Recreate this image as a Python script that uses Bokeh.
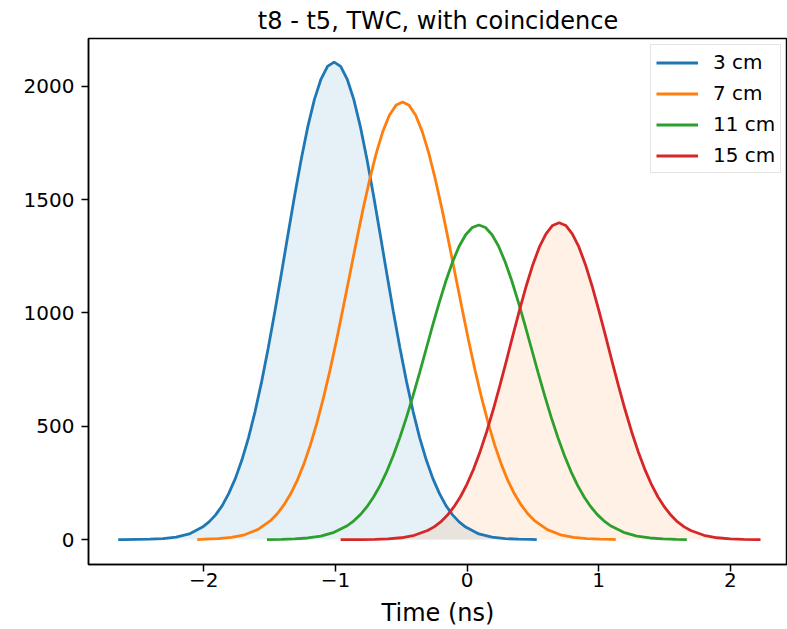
from bokeh.plotting import figure
from bokeh.models import Range1d, FixedTicker, Legend, LegendItem
from bokeh.embed import file_html
from bokeh.resources import INLINE

title_text = "t8 - t5, TWC, with coincidence"
x_label = "Time (ns)"
series_labels = ["3 cm", "7 cm", "11 cm", "15 cm"]
colors = ["#1f77b4", "#ff7f0e", "#2ca02c", "#d62728"]

time_3cm = [-2.65, -2.61, -2.51, -2.41, -2.31, -2.21, -2.11, -2.01, -1.96, -1.91, -1.86, -1.81, -1.76, -1.71,
            -1.66, -1.61, -1.56, -1.51, -1.46, -1.41, -1.36, -1.31, -1.26, -1.21, -1.16, -1.11, -1.06, -1.01,
            -0.96, -0.91, -0.86, -0.81, -0.76, -0.71, -0.66, -0.61, -0.56, -0.51, -0.46, -0.41, -0.36, -0.31,
            -0.26, -0.21, -0.16, -0.11, -0.06, -0.01, 0.09, 0.19, 0.29, 0.39, 0.49, 0.53]
counts_3cm = [0, 0, 1, 2, 4, 11, 25, 55, 78, 109, 150, 204, 270, 352, 450, 566, 698, 846, 1006, 1175, 1347,
              1517, 1677, 1821, 1941, 2031, 2088, 2107, 2088, 2031, 1941, 1821, 1677, 1517, 1347, 1175, 1006,
              846, 698, 566, 450, 352, 270, 204, 150, 109, 78, 55, 25, 11, 4, 2, 1, 0]

time_7cm = [-2.05, -1.99, -1.89, -1.79, -1.69, -1.59, -1.49, -1.44, -1.39, -1.34, -1.29, -1.24, -1.19, -1.14,
            -1.09, -1.04, -0.99, -0.94, -0.89, -0.84, -0.79, -0.74, -0.69, -0.64, -0.59, -0.54, -0.49, -0.44,
            -0.39, -0.34, -0.29, -0.24, -0.19, -0.14, -0.09, -0.04, 0.01, 0.06, 0.11, 0.16, 0.21, 0.26, 0.31,
            0.36, 0.41, 0.46, 0.51, 0.61, 0.71, 0.81, 0.91, 1.01, 1.11, 1.13]
counts_7cm = [0, 2, 4, 10, 21, 44, 85, 115, 154, 202, 261, 333, 418, 516, 627, 750, 884, 1026, 1171, 1317,
              1458, 1588, 1704, 1800, 1872, 1916, 1931, 1916, 1872, 1800, 1704, 1588, 1458, 1317, 1171, 1026,
              884, 750, 627, 516, 418, 333, 261, 202, 154, 115, 85, 44, 21, 10, 4, 2, 1, 0]

time_11cm = [-1.52, -1.41, -1.31, -1.21, -1.11, -1.01, -0.91, -0.86, -0.81, -0.76, -0.71, -0.66, -0.61, -0.56,
             -0.51, -0.46, -0.41, -0.36, -0.31, -0.26, -0.21, -0.16, -0.11, -0.06, -0.01, 0.04, 0.09, 0.14,
             0.19, 0.24, 0.29, 0.34, 0.39, 0.44, 0.49, 0.54, 0.59, 0.64, 0.69, 0.74, 0.79, 0.84, 0.89, 0.94,
             0.99, 1.04, 1.09, 1.19, 1.29, 1.39, 1.49, 1.59, 1.67]
counts_11cm = [0, 1, 3, 7, 15, 32, 61, 83, 110, 145, 188, 239, 300, 371, 451, 539, 635, 737, 842, 947, 1048,
               1142, 1225, 1294, 1345, 1377, 1388, 1377, 1345, 1294, 1225, 1142, 1048, 947, 842, 737, 635,
               539, 451, 371, 300, 239, 188, 145, 110, 83, 61, 32, 15, 7, 3, 1, 0]

time_15cm = [-0.96, -0.90, -0.80, -0.70, -0.60, -0.50, -0.40, -0.30, -0.25, -0.20, -0.15, -0.10, -0.05, 0.00,
             0.05, 0.10, 0.15, 0.20, 0.25, 0.30, 0.35, 0.40, 0.45, 0.50, 0.55, 0.60, 0.65, 0.70, 0.75, 0.80,
             0.85, 0.90, 0.95, 1.00, 1.05, 1.10, 1.15, 1.20, 1.25, 1.30, 1.35, 1.40, 1.45, 1.50, 1.55, 1.60,
             1.65, 1.70, 1.80, 1.90, 2.00, 2.10, 2.20, 2.23]
counts_15cm = [0, 0, 0, 1, 3, 8, 19, 40, 56, 78, 107, 144, 189, 245, 311, 389, 477, 575, 680, 791, 904,
               1015, 1119, 1213, 1291, 1349, 1386, 1398, 1386, 1349, 1291, 1213, 1119, 1015, 904, 791, 680,
               575, 477, 389, 311, 245, 189, 144, 107, 78, 56, 40, 19, 8, 3, 1, 0, 0]

x_ticks = [-2, -1, 0, 1, 2]
x_tick_labels = ["\u22122", "\u22121", "0", "1", "2"]
y_ticks = [0, 500, 1000, 1500, 2000]

FONT = "DejaVu Sans"

p = figure(width=787, height=629, output_backend="svg", toolbar_location=None,
           x_range=Range1d(-2.876, 2.435), y_range=Range1d(-110, 2211),
           min_border_left=88, min_border_right=0, min_border_top=38, min_border_bottom=64)

p.title.text = title_text
p.title.text_font = FONT
p.title.text_font_size = "24px"
p.title.text_font_style = "normal"
p.title.text_color = "black"
p.title.align = "center"
p.title.standoff = 7

p.grid.visible = False
p.outline_line_color = "black"
p.outline_line_width = 1.5
p.background_fill_color = "white"
p.border_fill_color = "white"

for ax in (p.xaxis[0], p.yaxis[0]):
    ax.major_label_text_font = FONT
    ax.major_label_text_font_size = "20px"
    ax.major_label_text_color = "black"
    ax.axis_line_width = 1.5
    ax.axis_line_color = "black"
    ax.major_tick_line_width = 1.5
    ax.major_tick_line_color = "black"
    ax.major_tick_out = 7
    ax.major_tick_in = 0
    ax.minor_tick_line_color = None

p.xaxis.ticker = FixedTicker(ticks=x_ticks)
p.xaxis.major_label_overrides = dict(zip(x_ticks, x_tick_labels))
p.xaxis.major_label_standoff = 1
p.xaxis.axis_label = x_label
p.xaxis.axis_label_text_font = FONT
p.xaxis.axis_label_text_font_size = "24px"
p.xaxis.axis_label_text_font_style = "normal"
p.xaxis.axis_label_text_color = "black"
p.xaxis.axis_label_standoff = 9
p.yaxis.ticker = FixedTicker(ticks=y_ticks)
p.yaxis.major_label_standoff = 7

# shaded areas under the 3 cm and 15 cm curves
p.varea(x=time_3cm, y1=0, y2=counts_3cm, fill_color=colors[0], fill_alpha=0.11)
p.varea(x=time_15cm, y1=0, y2=counts_15cm, fill_color=colors[1], fill_alpha=0.11)

series = [(time_3cm, counts_3cm), (time_7cm, counts_7cm), (time_11cm, counts_11cm), (time_15cm, counts_15cm)]
items = []
for (xs, ys), lab, col in zip(series, series_labels, colors):
    r = p.line(xs, ys, line_color=col, line_width=2.8)
    items.append(LegendItem(label=lab, renderers=[r]))

legend = Legend(items=items, location=(562, 391), margin=0, padding=5, spacing=7,
                glyph_width=42, glyph_height=23, label_height=23, label_standoff=15,
                label_text_font=FONT, label_text_font_size="20px", label_text_color="black",
                border_line_color="#cccccc", border_line_width=1.5,
                background_fill_color="white", background_fill_alpha=0.8)
p.add_layout(legend)

open("out.html", "w").write(file_html(p, INLINE))
